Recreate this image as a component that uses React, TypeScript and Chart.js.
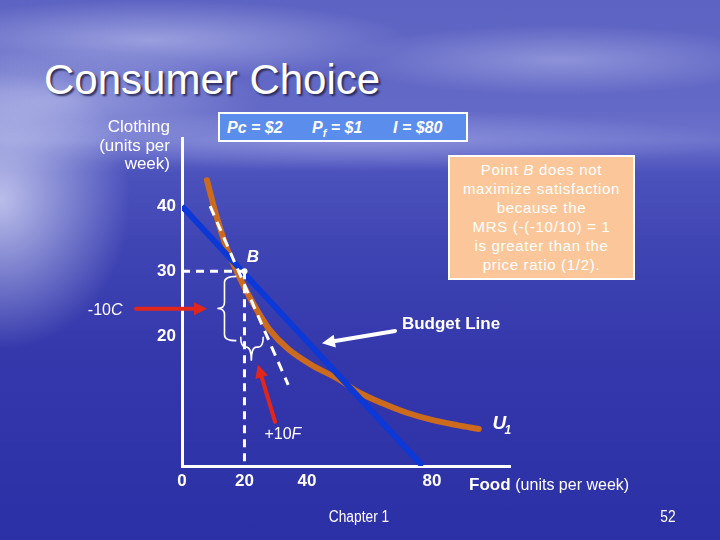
import React, { useEffect, useRef } from "react";
import { Chart, registerables } from "chart.js";

Chart.register(...registerables);

// ---------- data ----------
const xTickValues = [0, 20, 40, 80];
const yTickValues = [20, 30, 40];

const budgetFood = [0, 77];
const budgetClothing = [40, 0];

const u1Food = [8, 11, 14, 17, 20, 24, 28, 34, 42, 50, 56, 64, 72, 80, 88, 95];
const u1Clothing = [44, 38.5, 34, 30.5, 27.5, 24, 21, 18, 15.4, 13.4, 11.5, 9.7, 8.2, 7.1, 6.3, 5.7];

const tangentFood = [9, 34];
const tangentClothing = [40, 12.5];

const pointB = { food: 20, clothing: 30 };

const xMin = 0;
const xMax = 105;
const yMin = 0;
const yMax = 50.5;

const FONT = "'Liberation Sans', Arial, sans-serif";

const pts = (xs: number[], ys: number[]) => xs.map((x, i) => ({ x, y: ys[i] }));

// annotation plugin: arrows, braces, inline labels (positions in data units)
const annotationPlugin = {
  id: "slideAnnotations",
  afterDraw(chart: any) {
    const { ctx } = chart;
    const xs = chart.scales.x;
    const ys = chart.scales.y;
    const px = (v: number) => xs.getPixelForValue(v);
    const py = (v: number) => ys.getPixelForValue(v);

    const arrow = (x1: number, y1: number, x2: number, y2: number, color: string, w: number, head: number) => {
      const a = px(x1), b = py(y1), c = px(x2), d = py(y2);
      const ang = Math.atan2(d - b, c - a);
      ctx.save();
      ctx.strokeStyle = color;
      ctx.fillStyle = color;
      ctx.lineWidth = w;
      ctx.lineCap = "round";
      ctx.beginPath();
      ctx.moveTo(a, b);
      ctx.lineTo(c - Math.cos(ang) * head * 0.8, d - Math.sin(ang) * head * 0.8);
      ctx.stroke();
      ctx.beginPath();
      ctx.moveTo(c, d);
      ctx.lineTo(c - Math.cos(ang) * head + Math.sin(ang) * head * 0.5, d - Math.sin(ang) * head - Math.cos(ang) * head * 0.5);
      ctx.lineTo(c - Math.cos(ang) * head - Math.sin(ang) * head * 0.5, d - Math.sin(ang) * head + Math.cos(ang) * head * 0.5);
      ctx.closePath();
      ctx.fill();
      ctx.restore();
    };

    // red arrows
    arrow(-14.7, 24.2, 8, 24.2, "#e3261c", 4, 13);
    arrow(29.8, 6.8, 24.3, 15.6, "#e3261c", 4, 13);
    // white arrow to budget line
    arrow(68.2, 20.8, 44.8, 18.9, "#ffffff", 4, 13);

    // vertical brace "{"
    ctx.save();
    ctx.strokeStyle = "#ffffff";
    ctx.lineWidth = 1.6;
    {
      const spine = px(13.6), tip = px(11.3), end = px(17.4);
      const top = py(29.2), bot = py(19.3), mid = (top + bot) / 2, r = 6;
      ctx.beginPath();
      ctx.moveTo(end, top);
      ctx.quadraticCurveTo(spine, top, spine, top + r);
      ctx.lineTo(spine, mid - r);
      ctx.quadraticCurveTo(spine, mid, tip, mid);
      ctx.quadraticCurveTo(spine, mid, spine, mid + r);
      ctx.lineTo(spine, bot - r);
      ctx.quadraticCurveTo(spine, bot, end, bot);
      ctx.stroke();
    }
    // horizontal brace (opens upward)
    {
      const spine = py(18.3), tip = py(16.2), end = py(19.9);
      const l = px(18.8), rr = px(26), mid = px(22.2), r = 5;
      ctx.beginPath();
      ctx.moveTo(l, end);
      ctx.quadraticCurveTo(l, spine, l + r, spine);
      ctx.lineTo(mid - r, spine);
      ctx.quadraticCurveTo(mid, spine, mid, tip);
      ctx.quadraticCurveTo(mid, spine, mid + r, spine);
      ctx.lineTo(rr - r, spine);
      ctx.quadraticCurveTo(rr, spine, rr, end);
      ctx.stroke();
    }
    ctx.restore();

    // labels
    ctx.save();
    ctx.fillStyle = "#ffffff";
    ctx.textBaseline = "middle";

    const mixed = (parts: { t: string; f: string }[], cx: number, cy: number) => {
      let total = 0;
      parts.forEach((p) => {
        ctx.font = p.f;
        total += ctx.measureText(p.t).width;
      });
      let x = px(cx) - total / 2;
      parts.forEach((p) => {
        ctx.font = p.f;
        ctx.textAlign = "left";
        ctx.fillText(p.t, x, py(cy));
        x += ctx.measureText(p.t).width;
      });
    };

    ctx.font = `italic bold 17px ${FONT}`;
    ctx.textAlign = "center";
    ctx.fillText("B", px(22.7), py(32.2));

    mixed(
      [
        { t: "-10", f: `16px ${FONT}` },
        { t: "C", f: `italic 16px ${FONT}` },
      ],
      -24.6,
      23.9
    );
    mixed(
      [
        { t: "+10", f: `16px ${FONT}` },
        { t: "F", f: `italic 16px ${FONT}` },
      ],
      32.3,
      4.8
    );

    ctx.font = `bold 17px ${FONT}`;
    ctx.textAlign = "left";
    ctx.fillText("Budget Line", px(70.4), py(21.8));

    ctx.font = `italic bold 19px ${FONT}`;
    ctx.textAlign = "center";
    ctx.fillText("U", px(101.6), py(6.5));
    ctx.font = `italic bold 12px ${FONT}`;
    ctx.fillText("1", px(104.3), py(5.5));
    ctx.restore();
  },
};

function ChartCanvas() {
  const ref = useRef<HTMLCanvasElement | null>(null);
  useEffect(() => {
    if (!ref.current) return;
    const chart = new Chart(ref.current, {
      type: "scatter",
      data: {
        datasets: [
          {
            label: "Guide C",
            data: [
              { x: 0, y: pointB.clothing },
              { x: pointB.food, y: pointB.clothing },
            ],
            showLine: true,
            borderColor: "#ffffff",
            borderWidth: 3,
            borderDash: [8, 6],
            pointRadius: 0,
            order: 0,
          },
          {
            label: "Guide F",
            data: [
              { x: pointB.food, y: pointB.clothing },
              { x: pointB.food, y: 0 },
            ],
            showLine: true,
            borderColor: "#ffffff",
            borderWidth: 3,
            borderDash: [8, 6],
            pointRadius: 0,
            order: 0,
          },
          {
            label: "Tangent",
            data: pts(tangentFood, tangentClothing),
            showLine: true,
            borderColor: "#ffffff",
            borderWidth: 3,
            borderDash: [10, 7],
            pointRadius: 0,
            order: 0,
          },
          {
            label: "B",
            data: [{ x: pointB.food, y: pointB.clothing }],
            pointRadius: 3,
            pointBackgroundColor: "#ffffff",
            pointBorderWidth: 0,
            order: 0,
          },
          {
            label: "Budget Line",
            data: pts(budgetFood, budgetClothing),
            showLine: true,
            borderColor: "#0b38d6",
            borderWidth: 6,
            pointRadius: 0,
            order: 1,
          },
          {
            label: "U1",
            data: pts(u1Food, u1Clothing),
            showLine: true,
            borderColor: "#cc6a1e",
            borderWidth: 6,
            borderCapStyle: "round",
            cubicInterpolationMode: "monotone",
            pointRadius: 0,
            order: 2,
          },
        ],
      },
      options: {
        animation: false,
        responsive: false,
        devicePixelRatio: 1,
        layout: { padding: { left: 142, right: 210, top: 138, bottom: 40 } },
        plugins: {
          legend: { display: false },
          tooltip: { enabled: false },
          title: { display: false },
        },
        scales: {
          x: {
            type: "linear",
            position: "bottom",
            min: xMin,
            max: xMax,
            afterFit: (s: any) => {
              s.height = 34;
            },
            afterBuildTicks: (s: any) => {
              s.ticks = xTickValues.map((v) => ({ value: v }));
            },
            grid: { display: false, drawTicks: false },
            border: { display: true, color: "#ffffff", width: 3 },
            ticks: {
              color: "#ffffff",
              font: { family: FONT, size: 17, weight: "bold" },
              padding: 5,
              autoSkip: false,
              maxRotation: 0,
            },
          },
          y: {
            type: "linear",
            position: "left",
            min: yMin,
            max: yMax,
            afterFit: (s: any) => {
              s.width = 40;
            },
            afterBuildTicks: (s: any) => {
              s.ticks = yTickValues.map((v) => ({ value: v }));
            },
            grid: { display: false, drawTicks: false },
            border: { display: true, color: "#ffffff", width: 3 },
            ticks: {
              color: "#ffffff",
              font: { family: FONT, size: 17, weight: "bold" },
              padding: 6,
              autoSkip: false,
            },
          },
        },
      } as any,
      plugins: [annotationPlugin],
    });
    return () => chart.destroy();
  }, []);
  return <canvas ref={ref} width={720} height={540} style={{ position: "absolute", left: 0, top: 0 }} />;
}

const abs = (o: React.CSSProperties): React.CSSProperties => ({ position: "absolute", whiteSpace: "nowrap", ...o });

export default function App() {
  return (
    <div
      style={{
        position: "fixed",
        left: 0,
        top: 0,
        width: 720,
        height: 540,
        overflow: "hidden",
        fontFamily: FONT,
        color: "#ffffff",
        background: [
          "radial-gradient(ellipse 130px 150px at 0px 200px, rgba(235,238,255,0.7), rgba(235,238,255,0) 100%)",
          "radial-gradient(ellipse 200px 50px at 60px 100px, rgba(225,228,255,0.4), rgba(225,228,255,0) 100%)",
          "radial-gradient(ellipse 260px 40px at 150px 40px, rgba(225,228,255,0.45), rgba(225,228,255,0) 100%)",
          "radial-gradient(ellipse 220px 35px at 560px 60px, rgba(225,228,255,0.35), rgba(225,228,255,0) 100%)",
          "radial-gradient(ellipse 380px 30px at 360px 140px, rgba(200,205,250,0.35), rgba(200,205,250,0) 100%)",
          "linear-gradient(180deg, #5d63c2 0%, #6369c6 20%, #6c72cb 26%, #4c52bc 32%, #4045b4 45%, #3438ab 65%, #2c30a6 100%)",
        ].join(", "),
      }}
    >
      {/* Title */}
      <div
        style={abs({
          left: 44,
          top: 58,
          fontSize: 42,
          lineHeight: "44px",
          textShadow: "2px 2px 2px rgba(30,30,70,0.85)",
        })}
      >
        Consumer Choice
      </div>

      <ChartCanvas />

      {/* Y axis title */}
      <div
        style={abs({
          right: 550,
          top: 118,
          fontSize: 17,
          lineHeight: "18.5px",
          textAlign: "right",
        })}
      >
        Clothing
        <br />
        (units per
        <br />
        week)
      </div>

      {/* Prices box */}
      <div
        style={abs({
          left: 218,
          top: 112,
          width: 246,
          height: 26,
          background: "#5b8ded",
          border: "2px solid #ffffff",
        })}
      />
      <div style={abs({ left: 227, top: 119.5, fontSize: 16, lineHeight: "16px", fontWeight: "bold", fontStyle: "italic" })}>
        Pc = $2
      </div>
      <div style={abs({ left: 312, top: 119.5, fontSize: 16, lineHeight: "16px", fontWeight: "bold", fontStyle: "italic" })}>
        P<span style={{ fontSize: 11, position: "relative", top: 4 }}>f</span> = $1
      </div>
      <div style={abs({ left: 393, top: 119.5, fontSize: 16, lineHeight: "16px", fontWeight: "bold", fontStyle: "italic" })}>
        I = $80
      </div>

      {/* Explanation box */}
      <div
        style={abs({
          left: 448,
          top: 155,
          width: 183,
          height: 121,
          background: "#fbc79a",
          border: "2px solid #ffffff",
          fontSize: 15,
          lineHeight: "19px",
          letterSpacing: "0.7px",
          textAlign: "center",
          boxSizing: "content-box",
        })}
      >
        <div style={{ paddingTop: 3 }}>
          Point <i>B</i> does not
          <br />
          maximize satisfaction
          <br />
          because the
          <br />
          MRS (-(-10/10) = 1
          <br />
          is greater than the
          <br />
          price ratio (1/2).
        </div>
      </div>

      {/* X axis title */}
      <div style={abs({ left: 469, top: 475.5, fontSize: 17, lineHeight: "17px" })}>
        <b>Food</b> <span style={{ fontSize: 16 }}>(units per week)</span>
      </div>

      {/* Footer */}
      <div
        style={abs({
          left: 259,
          width: 200,
          top: 509,
          textAlign: "center",
          fontSize: 16,
          lineHeight: "16px",
          transform: "scaleX(0.86)",
        })}
      >
        Chapter 1
      </div>
      <div
        style={abs({
          left: 648,
          width: 40,
          top: 509,
          textAlign: "center",
          fontSize: 16,
          lineHeight: "16px",
          transform: "scaleX(0.86)",
        })}
      >
        52
      </div>
    </div>
  );
}
